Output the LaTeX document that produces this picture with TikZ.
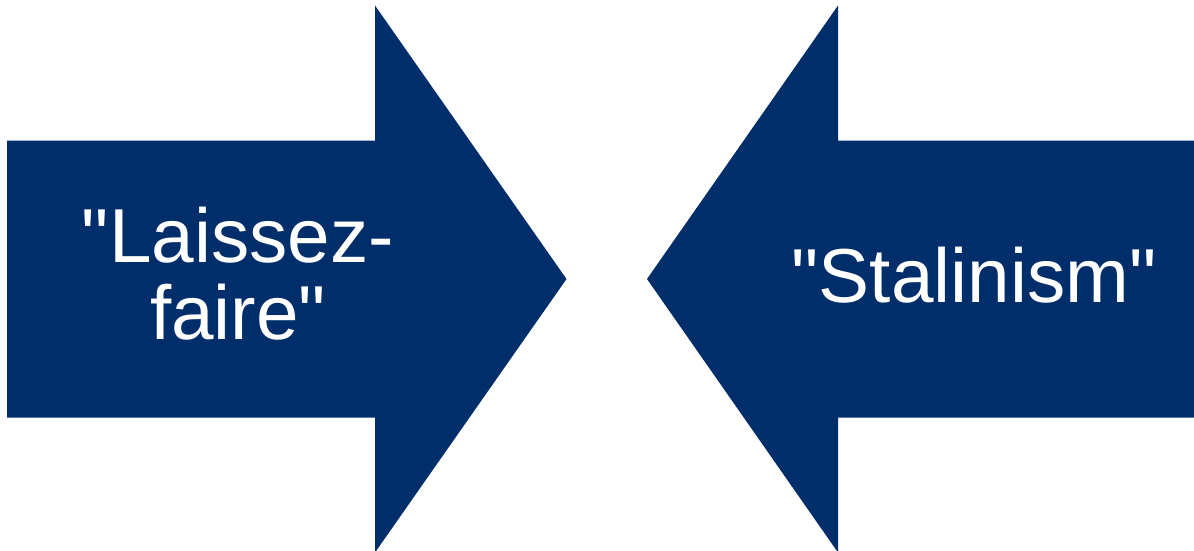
\documentclass[tikz,border=0pt]{standalone}
\usepackage{fontspec}
\setmainfont{Liberation Sans}[Ligatures=TeXOff]
\definecolor{navy}{RGB}{0,46,107}
\begin{document}
\begin{tikzpicture}[x=1pt,y=-1pt,
  arrowshape/.style={fill=navy,draw=none},
  label/.style={text=white,inner sep=0pt,align=center,font=\fontsize{76.5}{77}\selectfont}]
\useasboundingbox (0,0) rectangle (1194,551);
\fill[white] (0,0) rectangle (1194,551);
% left arrow
\path[arrowshape] (7,140.5) -- (375,140.5) -- (375,5.5) -- (566.5,279) -- (375,552.5) -- (375,417.5) -- (7,417.5) -- cycle;
% right arrow
\path[arrowshape] (1194,140.5) -- (838,140.5) -- (838,5.5) -- (647,279) -- (838,552.5) -- (838,417.5) -- (1194,417.5) -- cycle;
\node[label] (laissez) at (238,274) {"Laissez-\\faire"};
\node[label] (stalin) at (974,275) {"Stalinism"};
\end{tikzpicture}
\end{document}
